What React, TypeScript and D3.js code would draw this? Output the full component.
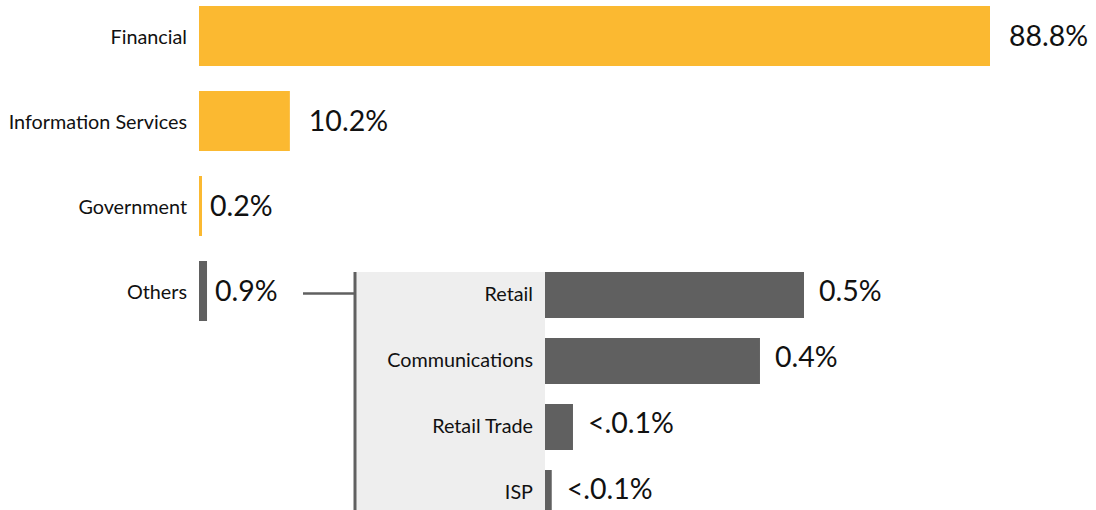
import React from "react";
import * as d3 from "d3";

const mainCategories = ["Financial", "Information Services", "Government", "Others"];
const mainValues = [88.8, 10.2, 0.2, 0.9];
const mainLabels = ["88.8%", "10.2%", "0.2%", "0.9%"];
const mainColors = ["#FBB931", "#FBB931", "#FBB931", "#606060"];

const subCategories = ["Retail", "Communications", "Retail Trade", "ISP"];
const subValues = [0.5, 0.415, 0.054, 0.013];
const subLabels = ["0.5%", "0.4%", "<.0.1%", "<.0.1%"];

const W = 1096;
const H = 510;
const FONT = "Lato, 'Open Sans', sans-serif";

export default function App() {
  const x = d3.scaleLinear().domain([0, 88.8]).range([199, 990]);
  const y = d3
    .scaleBand<string>()
    .domain(mainCategories)
    .range([-6.5, 333.5])
    .paddingInner(0.294)
    .paddingOuter(0.147);

  const sx = d3.scaleLinear().domain([0, 0.5]).range([545, 804]);
  const sy = d3
    .scaleBand<string>()
    .domain(subCategories)
    .range([262, 526])
    .paddingInner(0.303)
    .paddingOuter(0.1515);

  const panelTop = sy(subCategories[0]) ?? 0;

  return (
    <svg
      width={W}
      height={H}
      style={{ position: "absolute", left: 0, top: 0, background: "#fff" }}
      fontFamily={FONT}
    >
      {/* main bars */}
      {mainCategories.map((c, i) => {
        const w = Math.max(3, x(mainValues[i]) - x(0));
        const yy = y(c) ?? 0;
        const cy = yy + y.bandwidth() / 2;
        const gap = w > 20 ? 19 : 8;
        return (
          <g key={c}>
            <rect x={x(0)} y={yy} width={w} height={y.bandwidth()} fill={mainColors[i]} />
            <text
              x={x(0) - 12}
              y={cy + 3}
              textAnchor="end"
              dominantBaseline="middle"
              fontSize={19.8}
              fill="#111"
            >
              {c}
            </text>
            <text
              x={x(0) + w + gap}
              y={cy + 3}
              dominantBaseline="middle"
              fontSize={28.5}
              fill="#111"
            >
              {mainLabels[i]}
            </text>
          </g>
        );
      })}

      {/* connector */}
      <line x1={303} x2={355} y1={293.5} y2={293.5} stroke="#606060" strokeWidth={2.5} />
      <rect x={355} y={panelTop} width={sx(0) - 355} height={H - panelTop} fill="#EEEEEE" />
      <line x1={355} x2={355} y1={panelTop} y2={H} stroke="#606060" strokeWidth={3} />

      {/* sub bars */}
      {subCategories.map((c, i) => {
        const w = sx(subValues[i]) - sx(0);
        const yy = sy(c) ?? 0;
        const cy = yy + sy.bandwidth() / 2;
        return (
          <g key={c}>
            <rect x={sx(0)} y={yy} width={w} height={sy.bandwidth()} fill="#606060" />
            <text
              x={sx(0) - 12}
              y={cy + 1}
              textAnchor="end"
              dominantBaseline="middle"
              fontSize={19.8}
              fill="#111"
            >
              {c}
            </text>
            <text
              x={sx(0) + w + 15}
              y={cy - 1}
              dominantBaseline="middle"
              fontSize={28.5}
              fill="#111"
            >
              {subLabels[i]}
            </text>
          </g>
        );
      })}
    </svg>
  );
}
